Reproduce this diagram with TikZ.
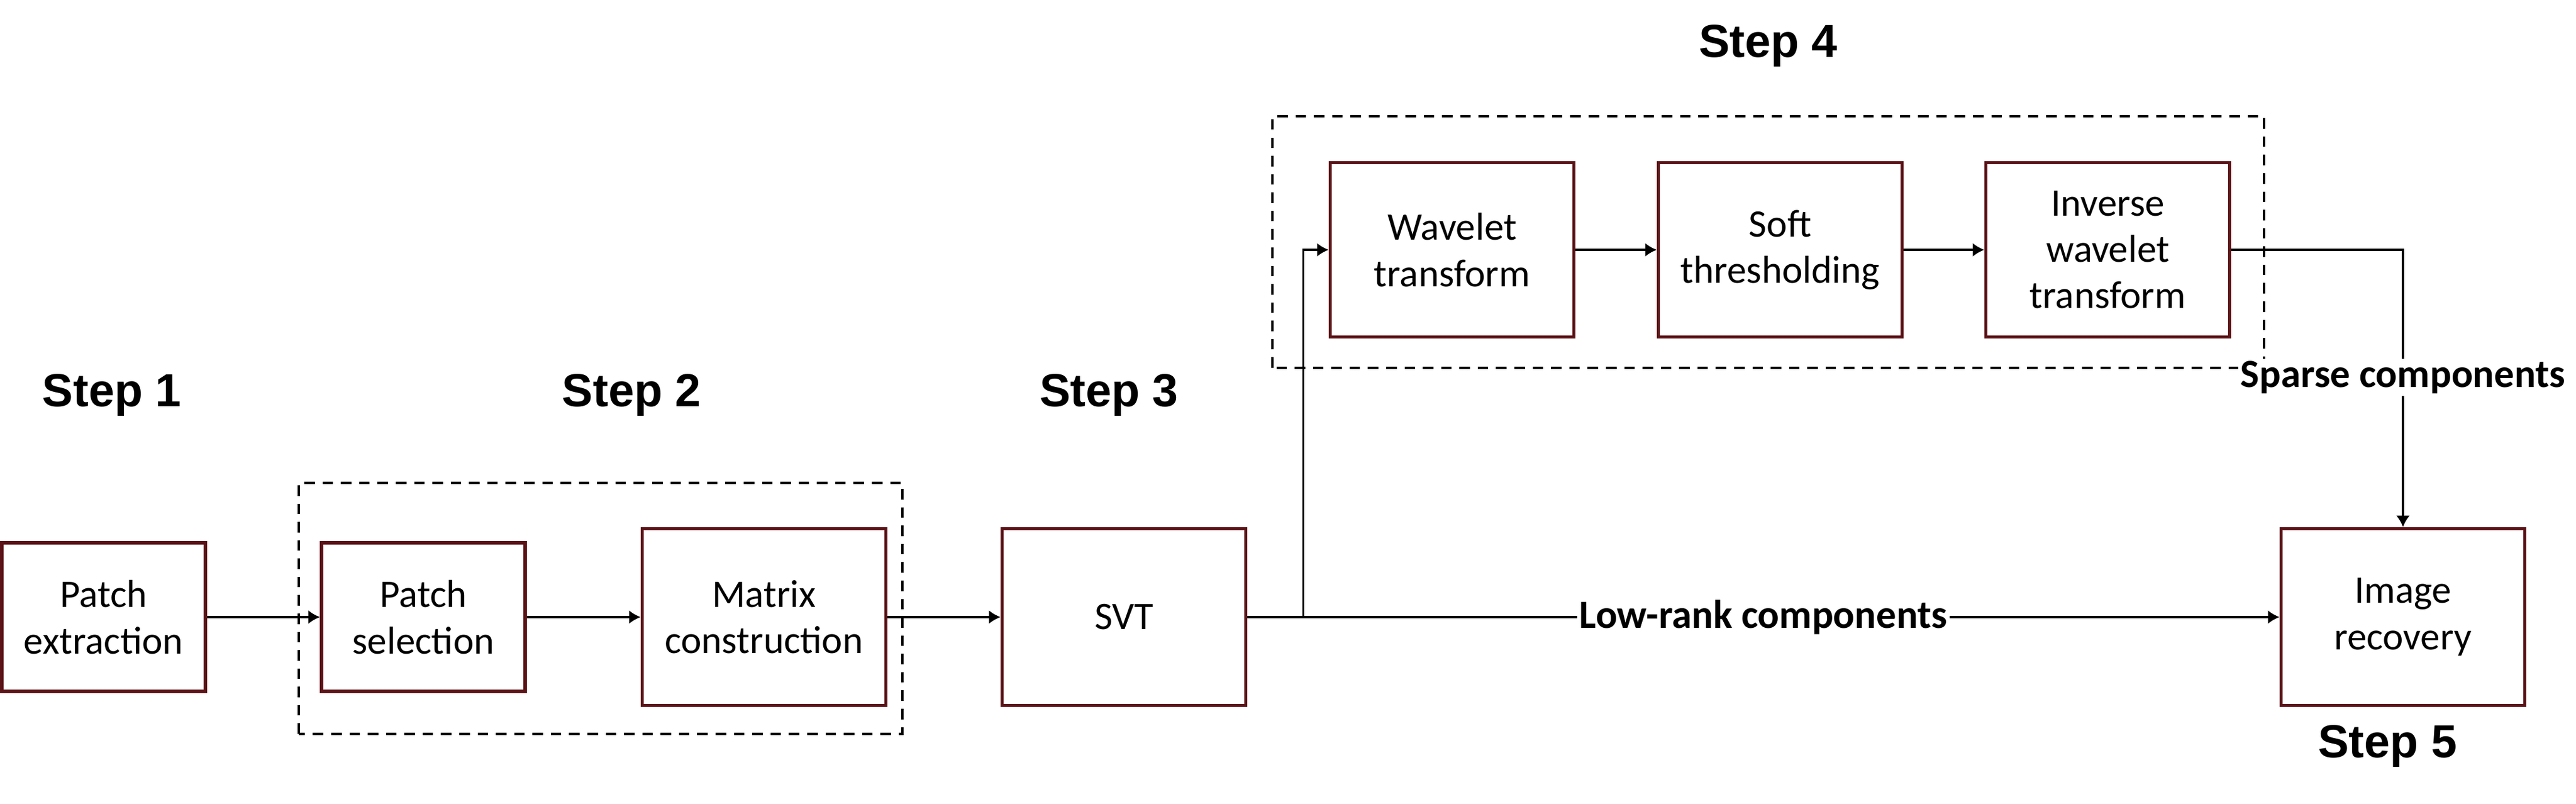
\documentclass[tikz,border=0pt]{standalone}
\usepackage{fontspec}
\setmainfont{Carlito}
\newfontfamily\stepfont{Liberation Sans}
\usepackage{tikz}
\usetikzlibrary{positioning,arrows.meta}
\definecolor{boxred}{RGB}{92,20,24}

\begin{document}
\begin{tikzpicture}[
    blockbox/.style={draw=boxred, line width=1.5pt, fill=white, align=center, inner sep=0pt,
        minimum width=4.07cm, minimum height=2.95cm, font=\fontsize{18.5}{22}\selectfont},
    smallbox/.style={blockbox, minimum width=3.4cm, minimum height=2.48cm},
    flow/.style={line width=1pt, -{Latex[length=5.5pt,width=6.5pt]}},
    steplabel/.style={font=\stepfont\bfseries\fontsize{22}{26}\selectfont},
    partlabel/.style={fill=white, inner sep=1pt, font=\bfseries\fontsize{19}{22}\selectfont},
    stepframe/.style={line width=1.3pt, dash pattern=on 5pt off 3.7pt}
]
    \useasboundingbox (0,0) rectangle (43.02,13.41);

    % Step frames
    \draw[stepframe] (4.99,1.16) rectangle (15.07,5.35);
    \draw[stepframe] (21.25,7.27) rectangle (37.81,11.47);

    % Lower row
    \node[smallbox] (ext) at (1.73,3.11) {Patch\\extraction};
    \node[smallbox] (sel) at (7.07,3.11) {Patch\\selection};
    \node[blockbox] (mat) at (12.76,3.11) {Matrix\\construction};
    \node[blockbox] (svt) at (18.77,3.11) {SVT};
    \node[blockbox] (rec) at (40.13,3.11) {Image\\recovery};

    % Upper row
    \node[blockbox, minimum height=2.91cm] (wav) at (24.25,9.24) {Wavelet\\transform};
    \node[blockbox, minimum height=2.91cm] (soft) at (29.73,9.24) {Soft\\thresholding};
    \node[blockbox, minimum height=2.91cm] (inv) at (35.20,9.24) {Inverse\\wavelet\\transform};

    % Step labels
    \node[steplabel] (s1) at (1.87,6.81) {Step 1};
    \node[steplabel] (s2) at (10.55,6.81) {Step 2};
    \node[steplabel] (s3) at (18.52,6.81) {Step 3};
    \node[steplabel] (s4) at (29.53,12.64) {Step 4};
    \node[steplabel] (s5) at (39.87,0.95) {Step 5};

    % Connections
    \draw[flow] (ext) -- (sel);
    \draw[flow] (sel) -- (mat);
    \draw[flow] (mat) -- (svt);
    \draw[flow] (svt) -- node[partlabel] {Low-rank components} (rec);
    \draw[flow] (svt.east) -- ++(0.935,0) |- (wav.west);
    \draw[flow] (wav) -- (soft);
    \draw[flow] (soft) -- (inv);
    \draw[flow] (inv.east) -| node[partlabel, pos=0.73] {Sparse components} (rec.north);
\end{tikzpicture}
\end{document}
